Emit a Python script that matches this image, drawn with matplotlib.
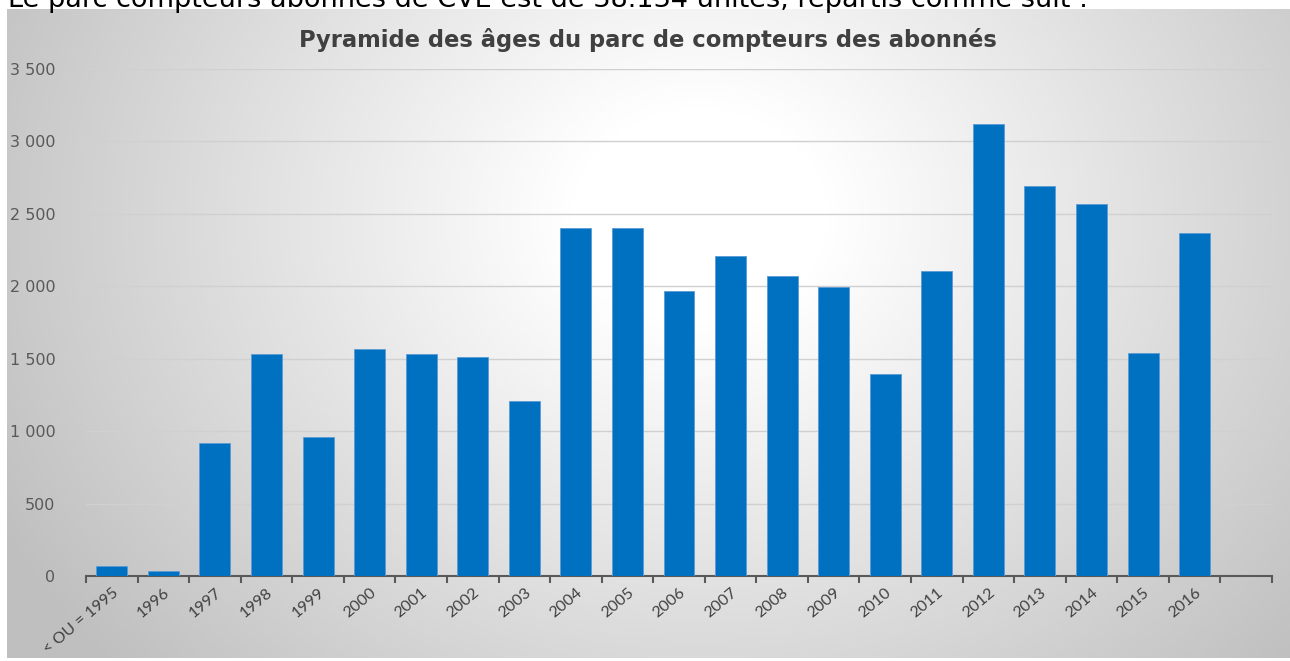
import numpy as np
import matplotlib
matplotlib.use("Agg")
import matplotlib.pyplot as plt
from matplotlib.ticker import FuncFormatter

# data
annees = ["< OU = 1995", "1996", "1997", "1998", "1999", "2000", "2001", "2002",
          "2003", "2004", "2005", "2006", "2007", "2008", "2009", "2010", "2011",
          "2012", "2013", "2014", "2015", "2016", ""]
compteurs = [71, 35, 917, 1535, 961, 1564, 1535, 1514, 1205, 2399, 2399, 1970,
             2209, 2073, 1993, 1392, 2108, 3117, 2690, 2569, 1541, 2365, 0]

W, H = 1290, 661
fig = plt.figure(figsize=(W / 100, H / 100), dpi=100)

# phrase coupee en haut de la page
fig.text(8 / W, 1 - 7 / H, "Le parc compteurs abonnés de CVE est de 38.134 unités, répartis comme suit :",
         fontsize=19.5, family="DejaVu Sans", color="black", va="baseline", ha="left")

# fond du graphique : degrade radial
bg = fig.add_axes([7 / W, 3 / H, 1 - 7 / W, 1 - 12 / H])
xx, yy = np.meshgrid(np.linspace(0, 1, 400), np.linspace(0, 1, 200))
r = np.sqrt(((xx - 0.54) * 1.0) ** 2 + ((yy - 0.32) * 0.6) ** 2)
g = 1 - 0.25 * np.clip((r - 0.1) / 0.52, 0, 1)
bg.imshow(np.dstack([g, g, g]), aspect="auto", extent=[0, 1, 1, 0])
bg.set_axis_off()

ax = fig.add_axes([86 / W, 1 - 576 / H, (1272 - 86) / W, (576 - 69) / H])
ax.patch.set_alpha(0)
x = np.arange(len(annees))
ax.bar(x, compteurs, width=0.6, color="#0070C0", edgecolor="#5B9BD5", linewidth=0.6, zorder=3)

ax.set_xlim(-0.5, len(annees) - 0.5)
ax.set_ylim(0, 3500)
ax.set_yticks(np.arange(0, 3501, 500))
ax.yaxis.set_major_formatter(FuncFormatter(lambda v, p: f"{int(v):,}".replace(",", " ")))
ax.grid(axis="y", color="#d0d0d0", linewidth=1, zorder=0)
ax.tick_params(axis="y", length=0, pad=22, labelsize=11.5, labelcolor="#595959")

ax.set_xticks(x)
ax.set_xticklabels(annees, rotation=40, ha="right", rotation_mode="anchor",
                   fontsize=11.5, color="#404040", family="Lato", va="top")
ax.set_xticks(np.arange(-0.5, len(annees)), minor=True)
ax.tick_params(axis="x", which="major", length=0, pad=7)
ax.tick_params(axis="x", which="minor", length=5, width=1.5, color="#595959", direction="out")

for s in ["top", "right", "left"]:
    ax.spines[s].set_visible(False)
ax.spines["bottom"].set_color("#595959")
ax.spines["bottom"].set_linewidth(1.5)

fig.text(648 / W, 1 - 40 / H, "Pyramide des âges du parc de compteurs des abonnés",
         fontsize=16.3, fontweight="bold", color="#404040", ha="center", va="center",
         family="DejaVu Sans")

fig.savefig("out.png", dpi=100)
